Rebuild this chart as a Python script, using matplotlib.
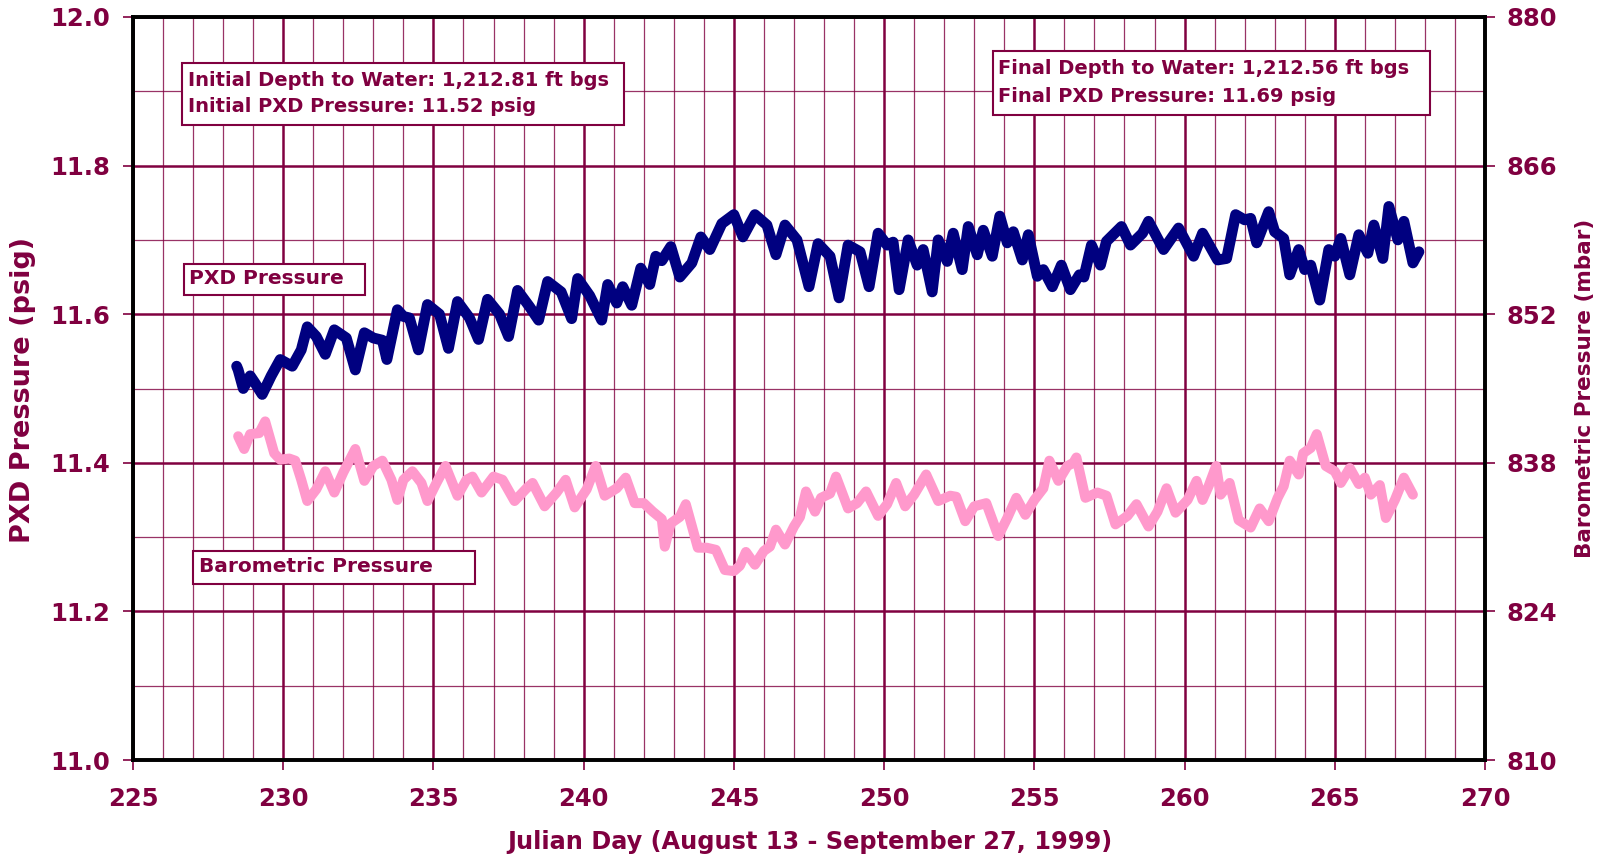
import matplotlib
matplotlib.use("Agg")
import matplotlib.pyplot as plt
from matplotlib.patches import Rectangle
from matplotlib.ticker import MultipleLocator, FixedLocator

# ---------------- data ----------------
pxd_day = [228.45, 228.5, 228.67, 228.9, 229.05, 229.3, 229.6, 229.9, 230.3, 230.6, 230.8,
           231.1, 231.4, 231.7, 232.1, 232.4, 232.7, 233.0, 233.3, 233.45, 233.8, 234.0,
           234.2, 234.5, 234.8, 235.2, 235.5, 235.8, 236.2, 236.5, 236.8, 237.2, 237.5,
           237.8, 238.2, 238.5, 238.8, 239.25, 239.6, 239.8, 240.2, 240.6, 240.8, 241.1,
           241.3, 241.6, 241.9, 242.2, 242.4, 242.6, 242.9, 243.2, 243.6, 243.9, 244.2,
           244.6, 245.0, 245.3, 245.7, 246.1, 246.4, 246.7, 247.1, 247.5, 247.8, 248.2,
           248.5, 248.8, 249.2, 249.5, 249.8, 250.1, 250.3, 250.5, 250.8, 251.1, 251.3,
           251.6, 251.8, 252.1, 252.3, 252.6, 252.8, 253.1, 253.3, 253.6, 253.85, 254.1,
           254.3, 254.6, 254.8, 255.1, 255.3, 255.6, 255.9, 256.2, 256.5, 256.65, 256.9,
           257.2, 257.4, 257.9, 258.2, 258.6, 258.8, 259.3, 259.8, 260.3, 260.6, 261.1,
           261.4, 261.7, 262.0, 262.2, 262.4, 262.8, 263.0, 263.3, 263.5, 263.8, 264.0,
           264.2, 264.5, 264.8, 265.0, 265.2, 265.5, 265.8, 266.1, 266.3, 266.6, 266.8,
           267.1, 267.3, 267.6, 267.8]
pxd_psig = [11.53, 11.525, 11.50, 11.517, 11.508, 11.492, 11.517, 11.539, 11.53, 11.552, 11.583,
            11.57, 11.546, 11.579, 11.568, 11.525, 11.575, 11.568, 11.565, 11.539, 11.606, 11.597,
            11.595, 11.552, 11.613, 11.60, 11.554, 11.617, 11.595, 11.566, 11.62, 11.60, 11.57,
            11.632, 11.61, 11.592, 11.644, 11.63, 11.594, 11.648, 11.625, 11.592, 11.64, 11.615,
            11.637, 11.612, 11.662, 11.64, 11.678, 11.672, 11.691, 11.65, 11.669, 11.704, 11.687,
            11.722, 11.734, 11.704, 11.734, 11.72, 11.68, 11.72, 11.70, 11.637, 11.695, 11.678,
            11.622, 11.693, 11.684, 11.637, 11.709, 11.693, 11.697, 11.633, 11.70, 11.666, 11.687,
            11.63, 11.70, 11.671, 11.709, 11.66, 11.718, 11.68, 11.713, 11.678, 11.732, 11.696,
            11.711, 11.673, 11.707, 11.651, 11.66, 11.637, 11.666, 11.633, 11.653, 11.65, 11.693,
            11.666, 11.698, 11.718, 11.693, 11.709, 11.725, 11.687, 11.716, 11.678, 11.709, 11.673,
            11.675, 11.734, 11.727, 11.729, 11.696, 11.738, 11.711, 11.702, 11.653, 11.687, 11.66,
            11.666, 11.619, 11.687, 11.678, 11.702, 11.653, 11.707, 11.682, 11.72, 11.675, 11.745,
            11.70, 11.725, 11.669, 11.684]

baro_day = [228.5, 228.7, 228.9, 229.2, 229.4, 229.7, 229.9, 230.2, 230.4, 230.6, 230.8,
            231.1, 231.4, 231.7, 232.0, 232.4, 232.7, 233.0, 233.3, 233.6, 233.8, 234.0,
            234.3, 234.6, 234.8, 235.1, 235.4, 235.8, 236.1, 236.3, 236.6, 237.0, 237.3,
            237.7, 238.1, 238.3, 238.7, 239.1, 239.4, 239.7, 240.1, 240.4, 240.7, 241.1,
            241.4, 241.7, 242.0, 242.3, 242.6, 242.7, 242.9, 243.2, 243.4, 243.8, 244.1,
            244.4, 244.7, 245.0, 245.2, 245.4, 245.7, 246.0, 246.2, 246.4, 246.7, 247.0,
            247.2, 247.4, 247.7, 247.9, 248.2, 248.4, 248.8, 249.1, 249.4, 249.8, 250.1,
            250.4, 250.7, 251.0, 251.4, 251.8, 252.2, 252.4, 252.7, 253.0, 253.4, 253.8,
            254.1, 254.4, 254.7, 255.0, 255.3, 255.5, 255.8, 256.1, 256.3, 256.4, 256.7,
            257.1, 257.4, 257.7, 258.1, 258.4, 258.8, 259.1, 259.4, 259.7, 260.1, 260.4,
            260.6, 260.8, 261.05, 261.2, 261.5, 261.8, 262.2, 262.5, 262.8, 263.1, 263.3,
            263.5, 263.8, 263.95, 264.2, 264.4, 264.7, 265.0, 265.2, 265.5, 265.8, 266.0,
            266.2, 266.5, 266.7, 267.0, 267.3, 267.6]
baro_mbar = [840.5, 839.3, 840.7, 840.8, 841.9, 838.9, 838.3, 838.4, 838.2, 836.4, 834.4,
             835.5, 837.2, 835.2, 837.1, 839.3, 836.3, 837.7, 838.2, 836.4, 834.5, 836.4,
             837.2, 836.1, 834.4, 836.1, 837.7, 834.9, 836.4, 836.7, 835.2, 836.7, 836.4,
             834.4, 835.6, 836.1, 833.9, 835.2, 836.4, 833.8, 835.5, 837.7, 834.9, 835.6,
             836.6, 834.2, 834.2, 833.4, 832.7, 830.1, 832.3, 832.9, 834.1, 830.0, 830.0,
             829.8, 827.9, 827.8, 828.3, 829.6, 828.4, 829.7, 830.1, 831.7, 830.3, 832.0,
             832.9, 835.3, 833.4, 834.7, 835.1, 836.7, 833.7, 834.2, 835.3, 833.0, 834.1,
             836.1, 833.9, 835.0, 836.9, 834.4, 834.9, 834.8, 832.5, 833.9, 834.2, 831.1,
             832.8, 834.7, 833.1, 834.5, 835.6, 838.2, 836.3, 837.7, 838.0, 838.5, 834.7,
             835.2, 834.9, 832.2, 833.0, 834.1, 832.0, 833.4, 835.6, 833.3, 834.5, 836.3,
             834.5, 835.8, 837.7, 835.0, 836.1, 832.6, 831.9, 833.7, 832.5, 834.7, 835.8,
             838.2, 836.9, 838.9, 839.4, 840.7, 837.7, 837.2, 836.1, 837.5, 836.0, 836.6,
             835.0, 835.9, 832.8, 834.5, 836.6, 835.0]

x_ticks = [225, 230, 235, 240, 245, 250, 255, 260, 265, 270]
left_ticks = [11.0, 11.2, 11.4, 11.6, 11.8, 12.0]
right_ticks = [810, 824, 838, 852, 866, 880]

initial_lines = ["Initial Depth to Water: 1,212.81 ft bgs", "Initial PXD Pressure: 11.52 psig"]
final_lines = ["Final Depth to Water: 1,212.56 ft bgs", "Final PXD Pressure: 11.69 psig"]

# ---------------- style ----------------
C = "#800040"
NAVY = "#000080"
PINK = "#FF99CC"
FONT = "DejaVu Sans"
W, H = 1606, 859

fig = plt.figure(figsize=(W / 100, H / 100), dpi=100)
L, R, T, B = 133, 1485, 17, 760
ax = fig.add_axes([L / W, 1 - B / H, (R - L) / W, (B - T) / H])
ax.set_xlim(225, 270)
ax.set_ylim(11.0, 12.0)

ax2 = ax.twinx()
ax2.set_ylim(810, 880)

# grid
ax.xaxis.set_major_locator(FixedLocator(x_ticks))
ax.xaxis.set_minor_locator(MultipleLocator(1))
ax.yaxis.set_major_locator(FixedLocator(left_ticks))
ax.yaxis.set_minor_locator(MultipleLocator(0.1))
ax.grid(which="major", color=C, linewidth=1.8, zorder=0)
ax.grid(which="minor", color=C, linewidth=0.9, alpha=0.8, zorder=0)
ax.set_axisbelow(True)

ax2.yaxis.set_major_locator(FixedLocator(right_ticks))

# lines
ax.plot(pxd_day, pxd_psig, color=NAVY, linewidth=7.8, solid_joinstyle="round",
        solid_capstyle="round", zorder=3)
ax2.plot(baro_day, baro_mbar, color=PINK, linewidth=7.2, solid_joinstyle="round",
         solid_capstyle="round", zorder=3)

# spines
for a in (ax, ax2):
    for s in a.spines.values():
        s.set_color("black")
        s.set_linewidth(2.6)

tick_font = dict(family=FONT, weight="bold", size=17.5)
ax.tick_params(axis="both", which="minor", length=0)
ax.tick_params(axis="both", which="major", length=7.2, width=1.2, color=C,
               labelcolor=C, direction="out")
ax.tick_params(axis="x", pad=12)
ax.tick_params(axis="y", pad=9.5)
ax2.tick_params(axis="y", which="major", length=7.2, width=1.2, color=C,
                labelcolor=C, direction="out", pad=8.6)
ax2.tick_params(axis="y", which="minor", length=0)

ax.set_xticklabels([str(v) for v in x_ticks], **tick_font)
ax.set_yticklabels([f"{v:.1f}" for v in left_ticks], **tick_font)
ax2.set_yticklabels([str(v) for v in right_ticks], **tick_font)

# axis labels
fig.text(23 / W, 1 - 390 / H, "PXD Pressure (psig)", rotation=90,
         ha="center", va="center", family=FONT, weight="bold", size=19.5, color=C)
fig.text(1585 / W, 1 - 388 / H, "Barometric Pressure (mbar)", rotation=90,
         ha="center", va="center", family=FONT, weight="bold", size=15.5, color=C)
fig.text(810 / W, 1 - 842 / H, "Julian Day (August 13 - September 27, 1999)",
         ha="center", va="center", family=FONT, weight="bold", size=17.3, color=C)

# annotation boxes
def box(x0, y0, x1, y1):
    fig.patches.append(Rectangle((x0 / W, 1 - y1 / H), (x1 - x0) / W, (y1 - y0) / H,
                                 transform=fig.transFigure, facecolor="white",
                                 edgecolor=C, linewidth=1.5, zorder=5))

ann_font = dict(family=FONT, weight="bold", size=14.5, color=C, zorder=6,
                ha="left", va="center")
info_font = dict(ann_font, size=14.0)

box(182, 63, 624, 125)
fig.text(188 / W, 1 - 80 / H, initial_lines[0], **info_font)
fig.text(188 / W, 1 - 107 / H, initial_lines[1], **info_font)

box(993, 51, 1430, 115)
fig.text(998 / W, 1 - 69 / H, final_lines[0], **info_font)
fig.text(998 / W, 1 - 96 / H, final_lines[1], **info_font)

box(184, 264, 365, 295)
fig.text(189 / W, 1 - 279 / H, "PXD Pressure", **ann_font)

box(193, 551, 475, 584)
fig.text(199 / W, 1 - 566 / H, "Barometric Pressure", **ann_font)

fig.savefig("out.png", dpi=100, facecolor="white")
